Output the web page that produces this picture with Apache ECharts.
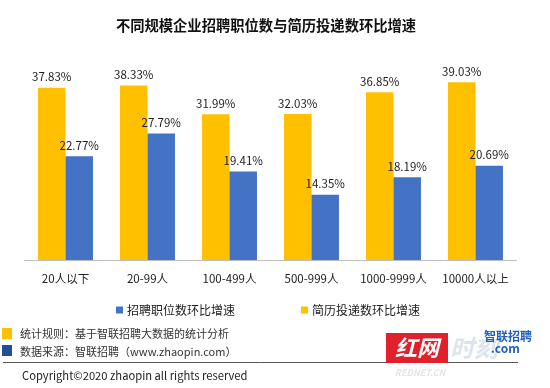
<!DOCTYPE html>
<html>
<head>
<meta charset="utf-8">
<script src="https://cdn.jsdelivr.net/npm/echarts@6/dist/echarts.min.js"></script>
<style>html,body{margin:0;padding:0;background:#fff;}#c{width:550px;height:388px;}</style>
</head>
<body>
<div id="c"></div>
<script>
const categories = ['20人以下', '20-99人', '100-499人', '500-999人', '1000-9999人', '10000人以上'];
const resumeGrowth = [37.83, 38.33, 31.99, 32.03, 36.85, 39.03];
const jobGrowth = [22.77, 27.79, 19.41, 14.35, 18.19, 20.69];
const seriesNames = ['简历投递数环比增速', '招聘职位数环比增速'];

const FONT = '"Noto Sans CJK SC", "Noto Sans", sans-serif';
const chart = echarts.init(document.getElementById('c'), null, {renderer: 'canvas'});
const labelStyle = {
  show: true, position: 'top', distance: 5,
  formatter: p => p.value.toFixed(2) + '%',
  fontSize: 11.5, color: '#222', fontFamily: FONT
};
chart.setOption({
  animation: false,
  backgroundColor: '#fff',
  title: {
    text: '不同规模企业招聘职位数与简历投递数环比增速',
    left: 261, top: 13, textAlign: 'center',
    textStyle: {fontSize: 14.3, fontWeight: 'bold', color: '#111', fontFamily: FONT}
  },
  legend: {
    data: [seriesNames[1], seriesNames[0]],
    left: 111, top: 299,
    icon: 'rect', itemWidth: 7, itemHeight: 7, itemGap: 66,
    textStyle: {fontSize: 12, color: '#222', fontFamily: FONT, padding: [0, 0, 0, -1]}
  },
  grid: {left: 24.5, width: 492, top: 55, height: 205, containLabel: false},
  xAxis: {
    type: 'category', data: categories,
    axisLine: {lineStyle: {color: '#bfbfbf', width: 1}},
    axisTick: {show: false},
    axisLabel: {fontSize: 11.5, color: '#222', margin: 13, fontFamily: FONT, interval: 0}
  },
  yAxis: {type: 'value', min: 0, max: 45, show: false, splitLine: {show: false}},
  series: [
    {name: seriesNames[0], type: 'bar', data: resumeGrowth, barGap: '0%', barCategoryGap: '33%',
     itemStyle: {color: '#FFC000'}, label: labelStyle},
    {name: seriesNames[1], type: 'bar', data: jobGrowth, barGap: '0%', barCategoryGap: '33%',
     itemStyle: {color: '#4472C4'}, label: labelStyle}
  ],
  graphic: {
    elements: [
      {type: 'rect', z: 10, shape: {x: 2, y: 328, width: 10, height: 11}, style: {fill: '#FFC000'}},
      {type: 'text', z: 10, x: 20, y: 334, style: {text: '统计规则：基于智联招聘大数据的统计分析', font: '11px ' + FONT, fill: '#333', textVerticalAlign: 'middle'}},
      {type: 'rect', z: 10, shape: {x: 2, y: 345, width: 10, height: 11}, style: {fill: '#1F4E9C'}},
      {type: 'text', z: 10, x: 20, y: 352, style: {text: '数据来源：智联招聘（www.zhaopin.com）', font: '11px ' + FONT, fill: '#333', textVerticalAlign: 'middle'}},
      {type: 'line', z: 10, shape: {x1: 3, y1: 362.5, x2: 518, y2: 362.5}, style: {stroke: '#555', lineWidth: 1}},
      {type: 'text', z: 10, x: 22, y: 376, style: {text: 'Copyright©2020 zhaopin all rights reserved', font: '11.2px ' + FONT, fill: '#222', textVerticalAlign: 'middle'}},
      {type: 'text', z: 21, x: 386, y: 333, style: {text: '红网', font: 'italic bold 22px ' + FONT, fill: '#ffffff', backgroundColor: '#E0202A', padding: [2, 9, 2, 9], lineHeight: 26}},
      {type: 'text', z: 21, x: 474, y: 348, style: {text: '时刻', font: 'italic bold 24px ' + FONT, fill: 'rgba(200,210,225,0.6)', textAlign: 'center', textVerticalAlign: 'middle'}},
      {type: 'text', z: 22, x: 484, y: 336, style: {text: '智联招聘', font: 'bold 12px ' + FONT, fill: '#1F5FBF', textVerticalAlign: 'middle'}},
      {type: 'text', z: 22, x: 491, y: 348, style: {text: '.com', font: 'bold 12px ' + FONT, fill: '#1F5FBF', textVerticalAlign: 'middle'}},
      {type: 'text', z: 20, x: 420, y: 373, style: {text: 'REDNET.CN', font: 'italic bold 9px ' + FONT, fill: '#e4e4e4', textAlign: 'center', textVerticalAlign: 'middle'}}
    ]
  }
});
</script>
</body>
</html>
